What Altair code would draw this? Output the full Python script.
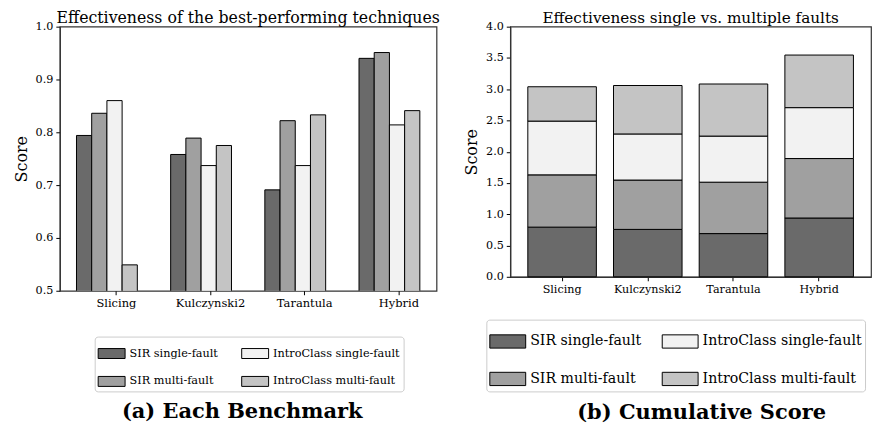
import altair as alt
import pandas as pd

techniques = ["Slicing", "Kulczynski2", "Tarantula", "Hybrid"]
series = ["SIR single-fault", "SIR multi-fault", "IntroClass single-fault", "IntroClass multi-fault"]
sir_single = [0.794, 0.758, 0.691, 0.940]
sir_multi = [0.836, 0.789, 0.822, 0.951]
intro_single = [0.860, 0.737, 0.737, 0.814]
intro_multi = [0.549, 0.775, 0.833, 0.841]
series_values = [sir_single, sir_multi, intro_single, intro_multi]
series_fills = ["#6a6a6a", "#a0a0a0", "#f2f2f2", "#c4c4c4"]

title_a = "Effectiveness of the best-performing techniques"
title_b = "Effectiveness single vs. multiple faults"
caption_a = "(a) Each Benchmark"
caption_b = "(b) Cumulative Score"
ticks_a = [0.5, 0.6, 0.7, 0.8, 0.9, 1.0]
ticks_b = [0.0, 0.5, 1.0, 1.5, 2.0, 2.5, 3.0, 3.5, 4.0]

FONT = "DejaVu Serif"
FRAME = "#333333"

rows = []
for i, t in enumerate(techniques):
    for j, s in enumerate(series):
        rows.append({"technique": t, "series": s, "value": series_values[j][i], "order": j})
df = pd.DataFrame(rows)

# legend fills row by row in 2 columns
legend_order = [series[0], series[2], series[1], series[3]]
legend_fills = [series_fills[series.index(s)] for s in legend_order]

rect_path = "M-1,-0.37L1,-0.37L1,0.37L-1,0.37Z"


def make_legend(x, y, font_size, sym_size, row_pad, col_pad, pad):
    return alt.Legend(
        title=None, orient="none", legendX=x, legendY=y, columns=2,
        direction="horizontal",
        symbolType=rect_path, symbolSize=sym_size, symbolStrokeColor="black",
        symbolStrokeWidth=1, symbolOpacity=1,
        labelFont=FONT, labelFontSize=font_size, labelColor="black",
        labelOffset=4, labelLimit=400,
        rowPadding=row_pad, columnPadding=col_pad,
        strokeColor="#cccccc", cornerRadius=3, padding=pad, fillColor="white",
    )


color_a = alt.Color(
    "series:N",
    scale=alt.Scale(domain=legend_order, range=legend_fills),
    legend=make_legend(35, 311, 11.3, 729, 7, 21, 3),
)
color_b = alt.Color(
    "series:N",
    scale=alt.Scale(domain=legend_order, range=legend_fills),
    legend=make_legend(-24, 294, 14.2, 1296, 10, 18, 3),
)

bars_a = alt.Chart(df).mark_bar(stroke="black", strokeWidth=1, opacity=1, clip=True).encode(
    x=alt.X(
        "technique:N", sort=techniques,
        scale=alt.Scale(paddingInner=0.354, paddingOuter=0.177),
        axis=alt.Axis(title=None, labelAngle=0, tickOffset=9, labelFontSize=11.5,
                      domain=False),
    ),
    xOffset=alt.XOffset("series:N", sort=series,
                        scale=alt.Scale(paddingInner=0, paddingOuter=0)),
    y=alt.Y("value:Q", scale=alt.Scale(domain=[0.5, 1.0], zero=False, nice=False),
            axis=alt.Axis(title="Score", values=ticks_a, format=".1f")),
    color=color_a,
)

cap_a = alt.Chart(pd.DataFrame({"t": [caption_a]})).mark_text(
    font=FONT, fontSize=21, fontWeight="bold", color="black", baseline="middle"
).encode(text="t:N", x=alt.value(183), y=alt.value(387))

left = alt.layer(bars_a, cap_a).properties(
    width=378, height=265,
    title=alt.TitleParams(title_a, font=FONT, fontSize=15.8, fontWeight="normal",
                          color="black", offset=-6),
)

bars_b = alt.Chart(df).mark_bar(stroke="black", strokeWidth=1, opacity=1).encode(
    x=alt.X(
        "technique:N", sort=techniques,
        scale=alt.Scale(paddingInner=0.2, paddingOuter=0.205),
        axis=alt.Axis(title=None, labelAngle=0),
    ),
    y=alt.Y("value:Q", stack="zero", scale=alt.Scale(domain=[0, 4], nice=False),
            axis=alt.Axis(title="Score", values=ticks_b, format=".1f")),
    order=alt.Order("order:Q", sort="ascending"),
    color=color_b,
)

cap_b = alt.Chart(pd.DataFrame({"t": [caption_b]})).mark_text(
    font=FONT, fontSize=21, fontWeight="bold", color="black", baseline="middle"
).encode(text="t:N", x=alt.value(192), y=alt.value(388))

right = alt.layer(bars_b, cap_b).properties(
    width=362, height=251,
    title=alt.TitleParams(title_b, font=FONT, fontSize=15.3, fontWeight="normal",
                          color="black", offset=-6),
)

chart = alt.hconcat(left, right, spacing=21).resolve_scale(
    color="independent", x="independent", y="independent"
).resolve_legend(color="independent").properties(
    padding={"left": 4, "top": 0, "right": 0, "bottom": 0}
).configure_view(
    stroke=FRAME, strokeWidth=1.2
).configure_axis(
    grid=False, domainColor=FRAME, domainWidth=1.2, tickColor="black", tickSize=4,
    labelFont=FONT, labelFontSize=11.2, labelColor="black", labelPadding=3,
    titleFont=FONT, titleFontSize=16, titleFontWeight="normal", titleColor="black",
    titlePadding=6,
)

chart.save("out.html", embed_options={"renderer": "svg", "actions": False})
